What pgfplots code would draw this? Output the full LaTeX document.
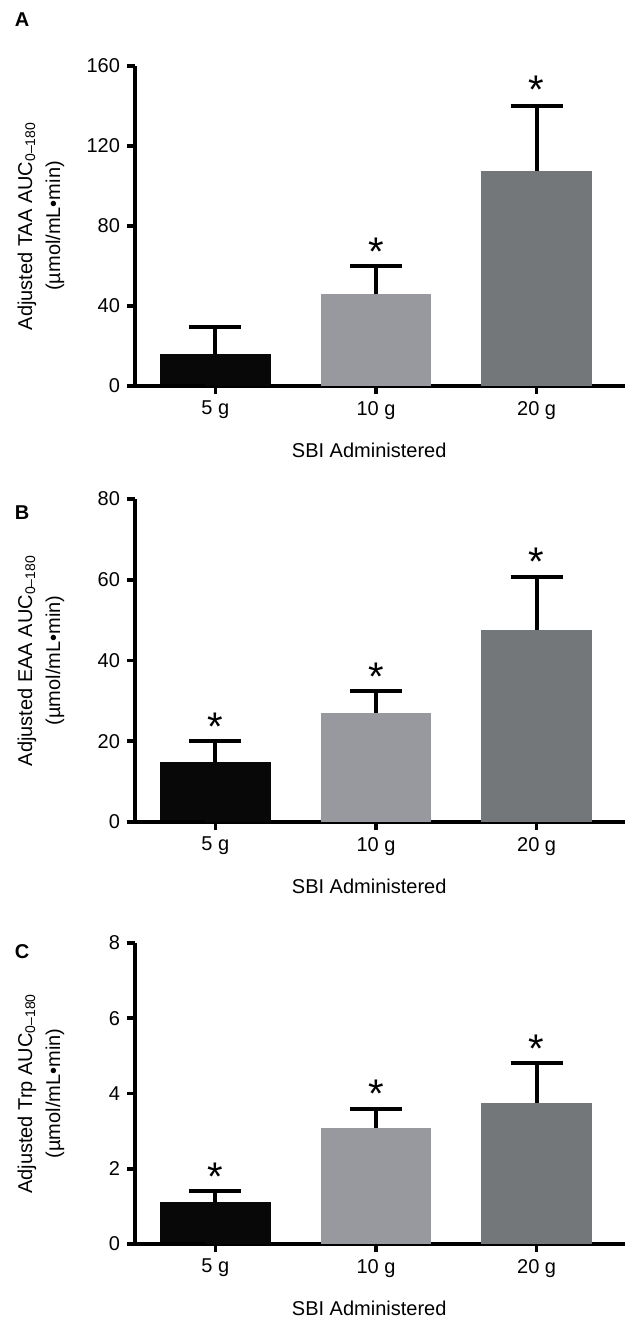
\documentclass[border=0pt]{standalone}
\usepackage{pgfplots}
\pgfplotsset{compat=1.18}
\usepackage{fontspec}
\setmainfont{Liberation Sans}

\definecolor{barA}{RGB}{8,8,8}
\definecolor{barB}{RGB}{151,153,158}
\definecolor{barC}{RGB}{116,119,122}

\pgfplotsset{
  sbi/.style={
    scale only axis,
    width=245pt,
    xmin=-0.5, xmax=2.55,
    ymin=0,
    axis lines*=left,
    axis line style={line width=1.8pt},
    xtick={0,1,2},
    xticklabels={5 g,10 g,20 g},
    tick style={line width=1.8pt, black},
    major tick length=4pt,
    tick align=outside,
    /pgf/number format/assume math mode=true,
    ticklabel style={font=\fontsize{10}{12}\selectfont},
    xlabel={SBI Administered},
    xlabel style={at={(axis description cs:0.478,0)}, anchor=center, yshift=-32pt,
      font=\fontsize{10}{12}\selectfont},
    ylabel style={at={(axis description cs:-0.192,0.5)}, anchor=center,
      align=center, font=\fontsize{10}{14}\selectfont},
    clip=false,
  },
  bar/.style={ybar, bar width=0.69, bar shift=0pt, draw=none, fill=#1,
    error bars/.cd, y dir=plus, y explicit,
    error bar style={line width=2pt, black},
    error mark options={rotate=90, line width=2pt, mark size=13pt, black}},
  star/.style={draw=none, mark=none,
    nodes near coords={\fontsize{20}{20}\selectfont *},
    nodes near coords style={anchor=center, yshift=-4pt}},
}

\newcommand{\sub}{\textsubscript{\fontsize{7}{7}\selectfont 0–180}}

\begin{document}
\begin{tikzpicture}
\path[use as bounding box] (0,0) rectangle (312.5pt,-658.5pt);

% panel A
\node[font=\bfseries\fontsize{10}{12}\selectfont] at (11pt,-10pt) {A};
\begin{axis}[sbi, at={(67.5pt,-193pt)}, anchor=south west, height=160pt,
  ymax=160, ytick={0,40,80,120,160},
  ylabel={Adjusted TAA AUC\sub\\(µmol/mL•min)}]
\addplot[bar=barA] coordinates {(0,16) +- (0,13.3)};
\addplot[bar=barB] coordinates {(1,45.8) +- (0,14.2)};
\addplot[bar=barC] coordinates {(2,107.6) +- (0,32.4)};
\addplot[star] coordinates {(1,71) (2,152)};
\draw[line width=1.8pt] (rel axis cs:0,0) -- ++(-5pt,0);
\end{axis}

% panel B
\node[font=\bfseries\fontsize{10}{12}\selectfont] at (11pt,-256.5pt) {B};
\begin{axis}[sbi, at={(67.5pt,-411pt)}, anchor=south west, height=161.5pt,
  ymax=80, ytick={0,20,40,60,80},
  ylabel={Adjusted EAA AUC\sub\\(µmol/mL•min)}]
\addplot[bar=barA] coordinates {(0,14.9) +- (0,5.1)};
\addplot[bar=barB] coordinates {(1,27.0) +- (0,5.4)};
\addplot[bar=barC] coordinates {(2,47.5) +- (0,13.2)};
\addplot[star] coordinates {(0,25.6) (1,38) (2,66.5)};
\draw[line width=1.8pt] (rel axis cs:0,0) -- ++(-5pt,0);
\end{axis}

% panel C
\node[font=\bfseries\fontsize{10}{12}\selectfont] at (11pt,-476pt) {C};
\begin{axis}[sbi, at={(67.5pt,-622pt)}, anchor=south west, height=150.5pt,
  ymax=8, ytick={0,2,4,6,8},
  ylabel={Adjusted Trp AUC\sub\\(µmol/mL•min)}]
\addplot[bar=barA] coordinates {(0,1.13) +- (0,0.29)};
\addplot[bar=barB] coordinates {(1,3.09) +- (0,0.49)};
\addplot[bar=barC] coordinates {(2,3.76) +- (0,1.04)};
\addplot[star] coordinates {(0,2.0) (1,4.2) (2,5.4)};
\draw[line width=1.8pt] (rel axis cs:0,0) -- ++(-5pt,0);
\end{axis}
\end{tikzpicture}
\end{document}
